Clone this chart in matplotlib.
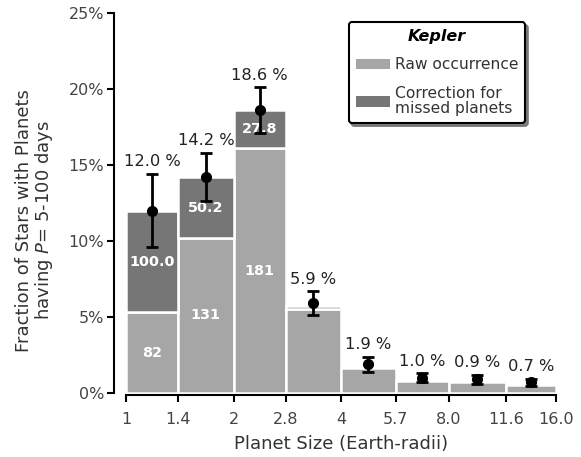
import matplotlib
matplotlib.use("Agg")
import matplotlib.pyplot as plt
import numpy as np
from matplotlib.patches import Patch

# Planet-radius bins (Earth radii) and their tick labels
bin_edges = [1.0, 1.4, 2.0, 2.8, 4.0, 5.7, 8.0, 11.6, 16.0]
edge_labels = ["1", "1.4", "2", "2.8", "4", "5.7", "8.0", "11.6", "16.0"]

# Fraction of stars (%) per bin
raw_pct = [5.3, 10.2, 16.1, 5.5, 1.65, 0.8, 0.75, 0.5]
correction_pct = [6.7, 4.0, 2.5, 0.2, 0.0, 0.0, 0.0, 0.0]
occurrence_pct = [12.0, 14.2, 18.6, 5.9, 1.9, 1.0, 0.9, 0.7]
occurrence_err = [2.4, 1.6, 1.5, 0.8, 0.5, 0.3, 0.3, 0.25]

# Planet counts printed inside the first three bins
raw_counts = ["82", "131", "181"]
correction_counts = ["100.0", "50.2", "27.8"]

LIGHT = "#a6a6a6"
DARK = "#767676"
TEXT = "#333333"

plt.rcParams["font.family"] = ["DejaVu Sans"]

fig = plt.figure(figsize=(5.81, 4.57), dpi=100)
ax = fig.add_axes([126 / 581, 64 / 457, 430 / 581, 380 / 457])

left = np.array(bin_edges[:-1])
right = np.array(bin_edges[1:])
widths = right - left
centers = np.sqrt(left * right)
raw = np.array(raw_pct)
corr = np.array(correction_pct)

ax.bar(left, raw, width=widths, align="edge", color=LIGHT,
       edgecolor="white", linewidth=1.8, zorder=1)
has_corr = corr > 0
ax.bar(left[has_corr], corr[has_corr], bottom=raw[has_corr],
       width=widths[has_corr], align="edge", color=DARK,
       edgecolor="white", linewidth=1.8, zorder=1)

for i, txt in enumerate(raw_counts):
    ax.text(centers[i], raw[i] / 2, txt, ha="center", va="center",
            color="white", fontsize=10.4, fontweight="bold", zorder=2)
for i, txt in enumerate(correction_counts):
    ax.text(centers[i], raw[i] + corr[i] / 2, txt, ha="center", va="center",
            color="white", fontsize=10.4, fontweight="bold", zorder=2)

ax.errorbar(centers, occurrence_pct, yerr=occurrence_err, fmt="o",
            color="black", ms=7, elinewidth=2, capsize=4.5, capthick=2,
            zorder=3)

for xc, val, err in zip(centers, occurrence_pct, occurrence_err):
    ax.annotate(f"{val:.1f} %", (xc, val + err), xytext=(0, 5.5),
                textcoords="offset points", ha="center", va="baseline",
                fontsize=11.7, color="#222222")

ax.set_xscale("log")
ax.set_xlim(bin_edges[0], bin_edges[-1])
ax.set_ylim(0, 25)
ax.set_xticks(bin_edges)
ax.set_xticklabels(edge_labels)
ax.xaxis.set_minor_locator(matplotlib.ticker.NullLocator())
ax.set_yticks([0, 5, 10, 15, 20, 25])
ax.set_yticklabels(["0%", "5%", "10%", "15%", "20%", "25%"])

for s in ("top", "right"):
    ax.spines[s].set_visible(False)
ax.spines["left"].set_position(("outward", 8.6))
ax.spines["bottom"].set_position(("outward", 1.5))
for s in ("left", "bottom"):
    ax.spines[s].set_linewidth(1.5)
ax.tick_params(axis="both", direction="out", length=5, width=1.5,
               labelsize=11.5, labelcolor="#444444")
ax.tick_params(axis="x", pad=7)
ax.tick_params(axis="y", pad=2)

ax.set_xlabel("Planet Size (Earth-radii)", fontsize=13, color=TEXT, labelpad=6)
ax.set_ylabel("Fraction of Stars with Planets\nhaving $P$= 5-100 days",
              fontsize=13, color=TEXT, linespacing=1.0)
ax.yaxis.set_label_coords(-0.165, 0.455)

handles = [Patch(facecolor=LIGHT, edgecolor="none", label="Raw occurrence"),
           Patch(facecolor=DARK, edgecolor="none",
                 label="Correction for\nmissed planets")]
leg = ax.legend(handles=handles, title="Kepler", loc="upper right",
                bbox_to_anchor=(0.928, 0.976), borderaxespad=0,
                fontsize=11.2, handlelength=2.2, handleheight=0.65,
                handletextpad=0.3, labelspacing=0.85, borderpad=0.45,
                fancybox=True, shadow={"color": "0.45", "alpha": 0.9},
                framealpha=1, edgecolor="black",
                title_fontproperties={"weight": "bold", "style": "italic",
                                      "size": 11.5})
leg.get_frame().set_linewidth(1.5)
for t in leg.get_texts():
    t.set_color(TEXT)
    t.set_linespacing(1.05)

fig.savefig("out.png", dpi=100)
